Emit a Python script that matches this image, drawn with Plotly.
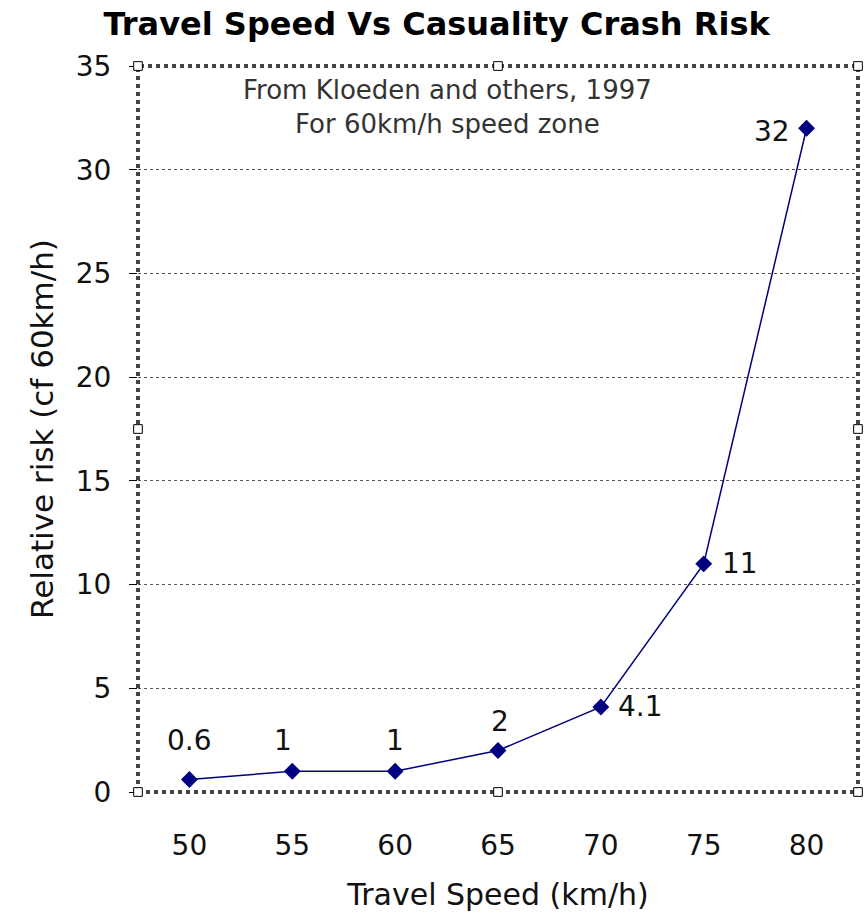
import plotly.graph_objects as go

speeds = ["50", "55", "60", "65", "70", "75", "80"]
risk = [0.6, 1, 1, 2, 4.1, 11, 32]
labels = ["0.6", "1", "1", "2", "4.1", "11", "32"]
y_ticks = [0, 5, 10, 15, 20, 25, 30, 35]

# label placement offsets (pixels) for each data label
label_dx = [0, -9, 0, 2, 40, 36, -35]
label_dy = [39, 31, 31, 29, 0, 0, -3]

FONT = "DejaVu Sans"
NAVY = "#000080"

fig = go.Figure()
fig.add_trace(go.Scatter(
    x=speeds, y=risk, mode="lines+markers",
    line=dict(color=NAVY, width=1.5),
    marker=dict(symbol="diamond", size=13, color=NAVY),
    cliponaxis=False, showlegend=False,
))

# category axis: annotations are positioned by category index
for i, (ry, t, dx, dy) in enumerate(zip(risk, labels, label_dx, label_dy)):
    fig.add_annotation(x=i, y=ry, xref="x", yref="y", text=t, showarrow=False,
                       xanchor="center", yanchor="middle",
                       xshift=dx, yshift=dy,
                       font=dict(family=FONT, size=28, color="#111111"))

fig.update_layout(
    width=868, height=914,
    margin=dict(l=138, r=10, t=66, b=122),
    paper_bgcolor="white", plot_bgcolor="white",
    title=dict(text="<b>Travel Speed Vs Casuality Crash Risk</b>",
               x=0.503, xanchor="center", y=0.974, yanchor="middle",
               font=dict(family=FONT, size=32, color="black")),
    xaxis=dict(type="category", range=[-0.5, 6.5], showgrid=False,
               zeroline=False, ticks="", showline=False,
               tickfont=dict(family=FONT, size=28, color="#111111"),
               ticklabelstandoff=34,
               title=dict(text="Travel Speed (km/h)", standoff=22,
                          font=dict(family=FONT, size=30, color="#111111"))),
    yaxis=dict(range=[0, 35], tickvals=y_ticks, showgrid=True,
               gridcolor="#555555", griddash="dot", gridwidth=1,
               zeroline=False, ticks="outside", ticklen=8, tickcolor="black",
               showline=False, ticklabelstandoff=12,
               tickfont=dict(family=FONT, size=28, color="#111111"),
               title=dict(text="Relative risk (cf 60km/h)", standoff=12,
                          font=dict(family=FONT, size=31, color="#111111"))),
)

# plot border (dotted, like a selected chart area)
fig.add_shape(type="rect", xref="x domain", yref="y domain",
              x0=0, x1=1, y0=0, y1=1,
              line=dict(color="#444444", width=4, dash="dot"), layer="above")

# small selection handles at corners and midpoints
for hx in (0, 0.5, 1):
    for hy in (0, 0.5, 1):
        if hx == 0.5 and hy == 0.5:
            continue
        fig.add_shape(type="rect", xref="x domain", yref="y domain",
                      x0=hx - 0.006, x1=hx + 0.006, y0=hy - 0.006, y1=hy + 0.006,
                      line=dict(color="black", width=1), fillcolor="white",
                      layer="above")

fig.add_annotation(xref="paper", yref="paper", x=0.43, y=0.99,
                   xanchor="center", yanchor="top", showarrow=False,
                   text="From Kloeden and others, 1997<br>For 60km/h speed zone",
                   align="center",
                   font=dict(family=FONT, size=26, color="#333333"))

fig.write_html("out.html")
